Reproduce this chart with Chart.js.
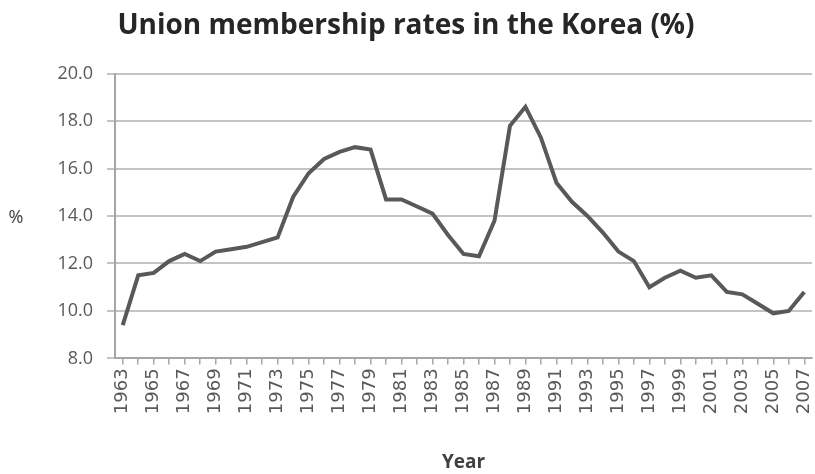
<!DOCTYPE html>
<html>
<head>
<meta charset="utf-8">
<script src="https://cdn.jsdelivr.net/npm/chart.js@4"></script>
<style>
    html, body { margin: 0; padding: 0; background: #fff; }
    #wrap { width: 815px; height: 474px; }
</style>
</head>
<body>
<div id="wrap"><canvas id="chart"></canvas></div>
<script>
// Years on the x axis
const years = [];
for (let y = 1963; y <= 2007; y++) years.push(String(y));

// Union membership rate, %
const rates = [
    9.4, 11.5, 11.6, 12.1, 12.4, 12.1, 12.5, 12.6, 12.7, 12.9,
    13.1, 14.8, 15.8, 16.4, 16.7, 16.9, 16.8, 14.7, 14.7, 14.4,
    14.1, 13.2, 12.4, 12.3, 13.8, 17.8, 18.6, 17.3, 15.4, 14.6,
    14.0, 13.3, 12.5, 12.1, 11.0, 11.4, 11.7, 11.4, 11.5, 10.8,
    10.7, 10.3, 9.9, 10.0, 10.8
];

// Y axis range
const yMin = 8;
const yMax = 20;
const yStep = 2;

// Draws the horizontal "%" label left of the y axis
const percentLabel = {
    id: 'percentLabel',
    afterDraw(chart) {
        const ctx = chart.ctx;
        ctx.save();
        ctx.font = '18px "Open Sans"';
        ctx.fillStyle = '#404040';
        ctx.textAlign = 'center';
        ctx.textBaseline = 'middle';
        ctx.fillText('%', 16, chart.scales.y.getPixelForValue(14) + 2);
        ctx.restore();
    }
};

const ctx = document.getElementById('chart').getContext('2d');
new Chart(ctx, {
    type: 'line',
    data: {
        labels: years,
        datasets: [{
            label: 'Union membership rate',
            data: rates,
            borderColor: '#595959',
            borderWidth: 4,
            pointRadius: 0,
            tension: 0
        }]
    },
    options: {
        responsive: true,
        maintainAspectRatio: false,
        animation: false,
        layout: { padding: { left: 0, right: 3, top: 0, bottom: 0 } },
        plugins: {
            legend: { display: false },
            tooltip: { enabled: false },
            title: {
                display: true,
                text: 'Union membership rates in the Korea (%)',
                color: '#262626',
                font: { family: 'Open Sans', size: 28, weight: 'bold' },
                padding: { top: 9, bottom: 31 }
            }
        },
        scales: {
            x: {
                offset: true,
                // let the plot run close to the right edge like the original
                afterFit: function(scale) {
                    scale.paddingLeft = 0;
                    scale.paddingRight = 0;
                },
                grid: {
                    display: true,
                    drawOnChartArea: false,
                    drawTicks: true,
                    tickLength: 6,
                    color: '#a6a6a6',
                    lineWidth: 1.5
                },
                border: { color: '#a6a6a6', width: 2 },
                ticks: {
                    autoSkip: false,
                    minRotation: 90,
                    maxRotation: 90,
                    padding: 4,
                    color: '#595959',
                    font: { family: 'DejaVu Sans', size: 18 },
                    callback: function(value, index) {
                        return index % 2 === 0 ? this.getLabelForValue(value) : '';
                    }
                },
                title: {
                    display: true,
                    text: 'Year',
                    color: '#404040',
                    font: { family: 'Open Sans', size: 19, weight: 'bold' },
                    padding: { top: 33, bottom: 0 }
                }
            },
            y: {
                min: yMin,
                max: yMax,
                afterFit: function(scale) { scale.width = 115; },
                grid: {
                    color: '#c4c4c4',
                    lineWidth: 2,
                    drawTicks: true,
                    tickLength: 8
                },
                border: { color: '#a6a6a6', width: 2 },
                ticks: {
                    stepSize: yStep,
                    padding: 14,
                    color: '#595959',
                    font: { family: 'Open Sans', size: 18 },
                    callback: v => v.toFixed(1)
                }
            }
        }
    },
    plugins: [percentLabel]
});
</script>
</body>
</html>
